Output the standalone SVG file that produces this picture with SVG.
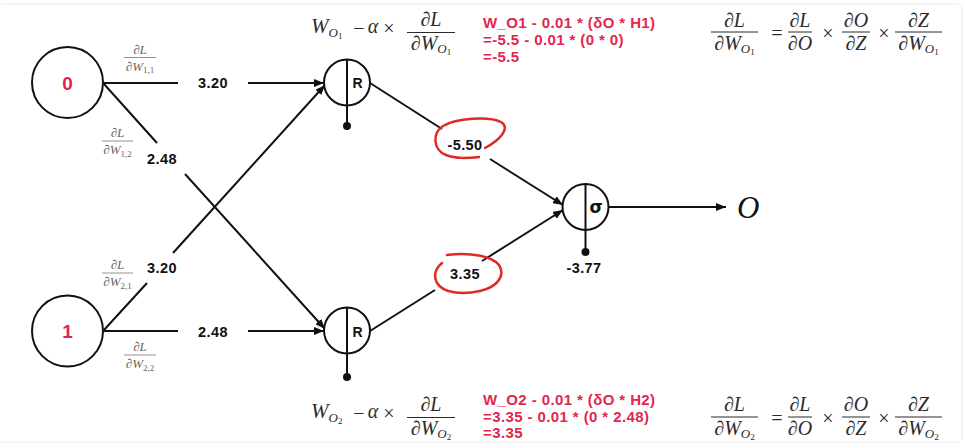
<svg xmlns="http://www.w3.org/2000/svg" width="965" height="448" viewBox="0 0 965 448">
<style>
.node{fill:#fff;stroke:#111;stroke-width:2}
.edge{stroke:#111;stroke-width:2;fill:none}
.stem{stroke:#111;stroke-width:2}
.dot{fill:#111}
.num{font-family:"Liberation Sans",Arial,sans-serif;font-weight:bold;font-size:14.5px;fill:#111;text-anchor:middle;letter-spacing:0.4px}
.act{font-family:"Liberation Sans",Arial,sans-serif;font-weight:bold;font-size:14px;fill:#111;text-anchor:middle}
.sig{font-family:"DejaVu Sans","Liberation Sans",sans-serif;font-weight:bold;font-size:17px;fill:#111;text-anchor:middle}
.inp{font-family:"Liberation Sans",Arial,sans-serif;font-weight:bold;font-size:19px;fill:#e0264f;text-anchor:middle}
.red{font-family:"Liberation Sans",Arial,sans-serif;font-weight:bold;font-size:15px;fill:#e3264f;letter-spacing:0.4px}
.m{font-family:"Liberation Serif","Times New Roman",serif;font-style:italic;font-size:21px;fill:#2b2b2b}
.mc{font-family:"Liberation Serif","Times New Roman",serif;font-style:italic;font-size:20px;fill:#2b2b2b;text-anchor:middle}
.mo{font-family:"Liberation Serif","Times New Roman",serif;font-style:normal;font-size:20px;fill:#2b2b2b;text-anchor:middle}
.bar{stroke:#2b2b2b;stroke-width:1}
.s{font-family:"Liberation Serif","Times New Roman",serif;font-style:italic;font-size:13px;fill:#666;text-anchor:middle}
.sbar{stroke:#777;stroke-width:0.8}
.scribble{fill:none;stroke:#e02a26;stroke-width:2.5;stroke-linecap:round;stroke-linejoin:round}
.out{font-family:"Liberation Serif","Times New Roman",serif;font-style:italic;font-size:31px;fill:#111}
</style>
<defs>
<marker id="arr" viewBox="0 0 10 8" refX="10" refY="4" markerWidth="10" markerHeight="8" markerUnits="userSpaceOnUse" orient="auto">
<path d="M0,0 L10,4 L0,8 z" fill="#111"/>
</marker>
</defs>
<rect x="-2" y="4" width="964" height="438" rx="6" fill="none" stroke="#ececec" stroke-width="1"/>

<g id="connectors">
<path class="edge" d="M103,83 L178,83"/>
<path class="edge" d="M248,83 L324,83" marker-end="url(#arr)"/>
<path class="edge" d="M104,84 L157,143"/>
<path class="edge" d="M185,174 L325,329" marker-end="url(#arr)"/>
<path class="edge" d="M104,330 L147,283"/>
<path class="edge" d="M173,253 L325,85" marker-end="url(#arr)"/>
<path class="edge" d="M103,331 L178,331"/>
<path class="edge" d="M248,331 L324,331" marker-end="url(#arr)"/>
<path class="edge" d="M370,83 L442,129"/>
<path class="edge" d="M490,159 L563,205" marker-end="url(#arr)"/>
<path class="edge" d="M370,331 L435,290"/>
<path class="edge" d="M482,261 L563,210" marker-end="url(#arr)"/>
<path class="edge" d="M608,207 L726,207" marker-end="url(#arr)"/>
</g>

<g id="edge-labels">
<text class="num" x="213" y="88">3.20</text>
<text class="num" x="162" y="164">2.48</text>
<text class="num" x="162" y="273">3.20</text>
<text class="num" x="213" y="337">2.48</text>
<text class="num" x="465" y="150">-5.50</text>
<text class="num" x="465" y="279">3.35</text>
<g class="s">
<text x="140" y="53.5">∂L</text>
<line class="sbar" x1="124" y1="57.5" x2="156" y2="57.5"/>
<text x="140" y="70.5">∂W<tspan font-size="9" font-style="normal" dy="2.5">1,1</tspan></text>
<text x="117.5" y="137">∂L</text>
<line class="sbar" x1="102" y1="141" x2="133" y2="141"/>
<text x="117.5" y="154">∂W<tspan font-size="9" font-style="normal" dy="2.5">1,2</tspan></text>
<text x="117.5" y="269">∂L</text>
<line class="sbar" x1="102" y1="273" x2="133" y2="273"/>
<text x="117.5" y="286">∂W<tspan font-size="9" font-style="normal" dy="2.5">2,1</tspan></text>
<text x="140" y="351">∂L</text>
<line class="sbar" x1="124" y1="355" x2="156" y2="355"/>
<text x="140" y="368">∂W<tspan font-size="9" font-style="normal" dy="2.5">2,2</tspan></text>
</g>
</g>

<g id="input-0">
<circle class="node" cx="67.5" cy="82.5" r="35.5"/>
<text class="inp" x="67.5" y="89.5">0</text>
</g>
<g id="input-1">
<circle class="node" cx="67.5" cy="331" r="35.5"/>
<text class="inp" x="67.5" y="338">1</text>
</g>
<g id="hidden-1">
<circle class="node" cx="347" cy="82.5" r="23"/>
<line class="stem" x1="347" y1="59.5" x2="347" y2="126"/>
<circle class="dot" cx="347" cy="126" r="4"/>
<text class="act" x="357.5" y="88">R</text>
</g>
<g id="hidden-2">
<circle class="node" cx="347" cy="330.5" r="23"/>
<line class="stem" x1="347" y1="307.5" x2="347" y2="377"/>
<circle class="dot" cx="347" cy="377" r="4"/>
<text class="act" x="357.5" y="336.5">R</text>
</g>
<g id="output-node">
<circle class="node" cx="585.5" cy="207" r="23"/>
<line class="stem" x1="585.5" y1="184" x2="585.5" y2="252"/>
<circle class="dot" cx="585.5" cy="252" r="4"/>
<text class="sig" x="596" y="213">σ</text>
<text class="num" x="584" y="273">-3.77</text>
</g>
<g id="output-label">
<text class="out" x="737" y="218">O</text>
</g>

<g id="annotations">
<path class="scribble" d="M485,148 C500,140 511,128 501,122 C489,116 456,118 443,126 C432,133 433,150 446,155 C456,159 468,158 479,157"/>
<path class="scribble" d="M447,255 C470,252 492,256 499,265 C506,276 497,287 480,291 C462,295 443,293 437,283 C433,275 436,268 442,263"/>
</g>

<g id="formula-top-left">
<text class="m" x="311" y="33">W<tspan font-size="13" dy="4">O</tspan><tspan font-size="9" font-style="normal" dy="2">1</tspan></text>
<text class="mo" x="359" y="35">−</text>
<text class="mc" x="373" y="33">α</text>
<text class="mo" x="389" y="35">×</text>
<text class="mc" x="431" y="26">∂L</text>
<line class="bar" x1="407" y1="32.5" x2="455" y2="32.5"/>
<text class="mc" x="431" y="50">∂W<tspan font-size="13" dy="3">O</tspan><tspan font-size="9" font-style="normal" dy="2">1</tspan></text>
</g>
<g id="update-top" class="red">
<text x="483" y="28">W_O1 - 0.01 * (δO * H1)</text>
<text x="483" y="45">=-5.5 - 0.01 * (0 * 0)</text>
<text x="483" y="62">=-5.5</text>
</g>
<g id="formula-top-right">
<text class="mc" x="734.5" y="27">∂L</text>
<line class="bar" x1="711" y1="32" x2="758" y2="32"/>
<text class="mc" x="734.5" y="50">∂W<tspan font-size="13" dy="3">O</tspan><tspan font-size="9" font-style="normal" dy="2">1</tspan></text>
<text class="mo" x="777" y="40">=</text>
<text class="mc" x="800" y="27">∂L</text>
<line class="bar" x1="788" y1="32" x2="812" y2="32"/>
<text class="mc" x="800" y="50">∂O</text>
<text class="mo" x="828" y="40">×</text>
<text class="mc" x="856" y="27">∂O</text>
<line class="bar" x1="842" y1="32" x2="870" y2="32"/>
<text class="mc" x="856" y="50">∂Z</text>
<text class="mo" x="884" y="40">×</text>
<text class="mc" x="918.5" y="27">∂Z</text>
<line class="bar" x1="895" y1="32" x2="942" y2="32"/>
<text class="mc" x="918.5" y="50">∂W<tspan font-size="13" dy="3">O</tspan><tspan font-size="9" font-style="normal" dy="2">1</tspan></text>
</g>

<g id="formula-bottom-left">
<text class="m" x="311" y="418">W<tspan font-size="13" dy="4">O</tspan><tspan font-size="9" font-style="normal" dy="2">2</tspan></text>
<text class="mo" x="359" y="420">−</text>
<text class="mc" x="373" y="418">α</text>
<text class="mo" x="389" y="420">×</text>
<text class="mc" x="431" y="411">∂L</text>
<line class="bar" x1="407" y1="417.5" x2="455" y2="417.5"/>
<text class="mc" x="431" y="435">∂W<tspan font-size="13" dy="3">O</tspan><tspan font-size="9" font-style="normal" dy="2">2</tspan></text>
</g>
<g id="update-bottom" class="red">
<text x="483" y="405">W_O2 - 0.01 * (δO * H2)</text>
<text x="483" y="421.5">=3.35 - 0.01 * (0 * 2.48)</text>
<text x="483" y="438">=3.35</text>
</g>
<g id="formula-bottom-right">
<text class="mc" x="734.5" y="411">∂L</text>
<line class="bar" x1="711" y1="417" x2="758" y2="417"/>
<text class="mc" x="734.5" y="435">∂W<tspan font-size="13" dy="3">O</tspan><tspan font-size="9" font-style="normal" dy="2">2</tspan></text>
<text class="mo" x="777" y="425">=</text>
<text class="mc" x="800" y="411">∂L</text>
<line class="bar" x1="788" y1="417" x2="812" y2="417"/>
<text class="mc" x="800" y="435">∂O</text>
<text class="mo" x="828" y="425">×</text>
<text class="mc" x="856" y="411">∂O</text>
<line class="bar" x1="842" y1="417" x2="870" y2="417"/>
<text class="mc" x="856" y="435">∂Z</text>
<text class="mo" x="884" y="425">×</text>
<text class="mc" x="918.5" y="411">∂Z</text>
<line class="bar" x1="895" y1="417" x2="942" y2="417"/>
<text class="mc" x="918.5" y="435">∂W<tspan font-size="13" dy="3">O</tspan><tspan font-size="9" font-style="normal" dy="2">2</tspan></text>
</g>
</svg>
